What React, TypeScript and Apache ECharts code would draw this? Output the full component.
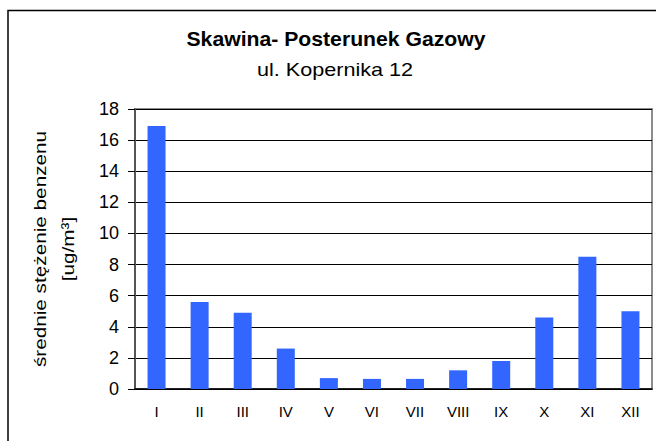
import React, { useEffect, useRef } from "react";
import * as echarts from "echarts";

const categories = ["I", "II", "III", "IV", "V", "VI", "VII", "VIII", "IX", "X", "XI", "XII"];
const values = [16.9, 5.6, 4.9, 2.6, 0.7, 0.65, 0.65, 1.2, 1.8, 4.6, 8.5, 5.0];
const titleText = "Skawina- Posterunek Gazowy";
const subtitleText = "ul. Kopernika 12";
const yNameLine1 = "średnie stężenie benzenu";
const yNameLine2 = "[ug/m³]";

const FONT = "'Liberation Sans', Arial, sans-serif";

export default function App() {
  const ref = useRef<HTMLDivElement>(null);
  useEffect(() => {
    if (!ref.current) return;
    const chart = echarts.init(ref.current, null, { renderer: "svg" });
    chart.setOption({
      animation: false,
      backgroundColor: "#ffffff",
      grid: { left: 135, right: 4, top: 109, bottom: 52, show: true, borderColor: "#8c8c8c", borderWidth: 2 },
      xAxis: {
        type: "category",
        data: categories,
        axisLine: { lineStyle: { color: "#000", width: 1.5 } },
        axisTick: { show: false },
        axisLabel: { fontFamily: FONT, fontSize: 15, color: "#000", margin: 15 },
      },
      yAxis: {
        type: "value",
        min: 0,
        max: 18,
        interval: 2,
        axisLine: { show: true, lineStyle: { color: "#555", width: 2 } },
        axisTick: { show: true, length: 7, lineStyle: { color: "#000" } },
        axisLabel: { fontFamily: FONT, fontSize: 18, color: "#000", margin: 16 },
        splitLine: { lineStyle: { color: "#000", width: 1 } },
      },
      series: [
        {
          type: "bar",
          data: values,
          barWidth: 18,
          itemStyle: { color: "#3366ff" },
        },
      ],
      graphic: [
        {
          type: "rect",
          shape: { x: 8, y: 10.5, width: 700, height: 500 },
          style: { fill: "none", stroke: "#000", lineWidth: 1.5 },
          silent: true,
        },
        {
          type: "text",
          x: 336,
          y: 39,
          scaleX: 1.06,
          style: {
            text: titleText,
            fontFamily: FONT,
            fontSize: 20,
            fontWeight: "bold",
            fill: "#000",
            textAlign: "center",
            textVerticalAlign: "middle",
          },
        },
        {
          type: "text",
          x: 335,
          y: 70,
          scaleX: 1.2,
          style: {
            text: subtitleText,
            fontFamily: FONT,
            fontSize: 18,
            fill: "#000",
            textAlign: "center",
            textVerticalAlign: "middle",
          },
        },
        {
          type: "text",
          x: 40,
          y: 249,
          rotation: Math.PI / 2,
          scaleX: 1.22,
          style: {
            text: yNameLine1,
            fontFamily: FONT,
            fontSize: 17,
            fill: "#000",
            textAlign: "center",
            textVerticalAlign: "middle",
          },
        },
        {
          type: "text",
          x: 68,
          y: 249,
          rotation: Math.PI / 2,
          scaleX: 1.22,
          style: {
            text: yNameLine2,
            fontFamily: FONT,
            fontSize: 17,
            fill: "#000",
            textAlign: "center",
            textVerticalAlign: "middle",
          },
        },
      ],
    });
    return () => chart.dispose();
  }, []);
  return <div ref={ref} style={{ width: 656, height: 441, position: "absolute", left: 0, top: 0 }} />;
}
